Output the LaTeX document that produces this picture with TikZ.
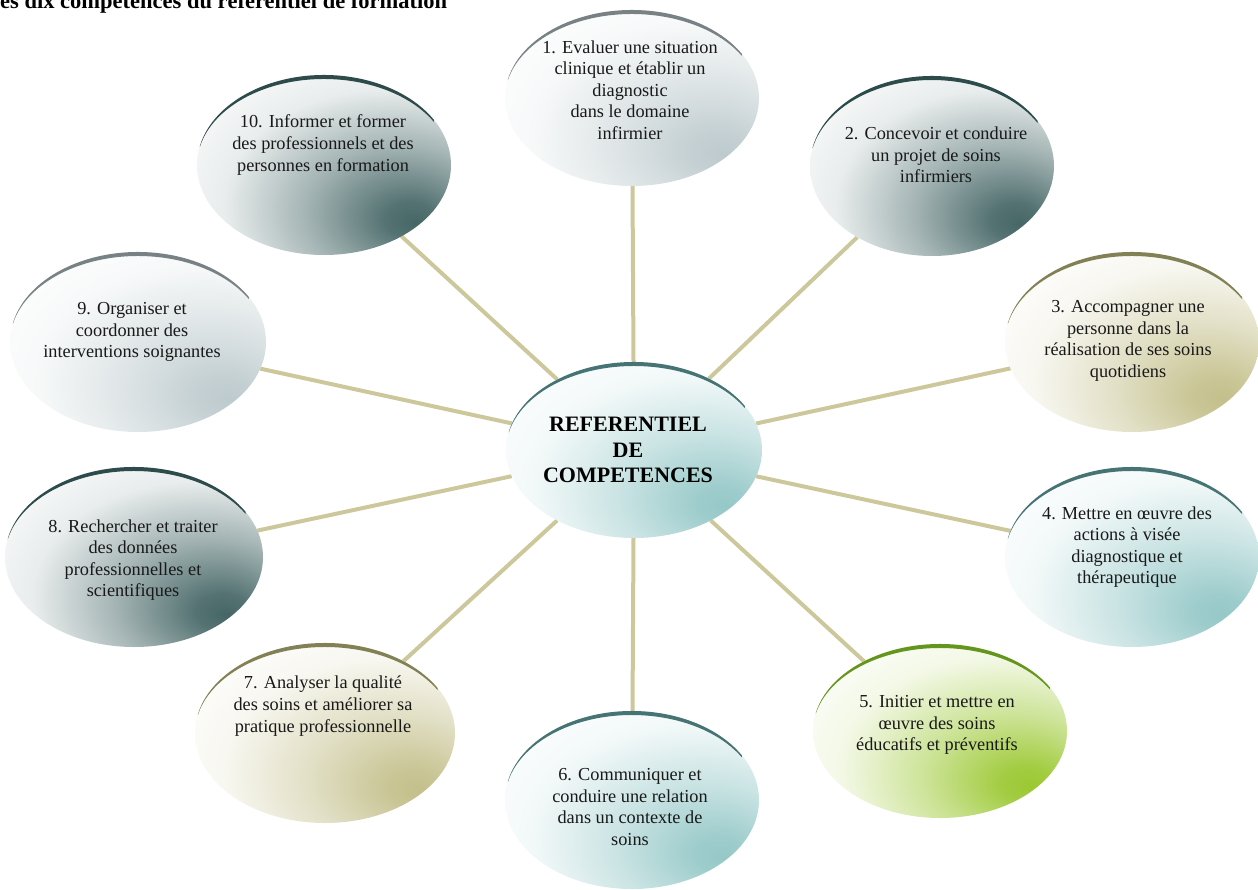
\documentclass[tikz,border=0pt]{standalone}
\usepackage{fontspec}
\setmainfont{Liberation Serif}
\usetikzlibrary{shapes.geometric,calc,backgrounds}
\definecolor{cslate}{RGB}{70,102,102}
\definecolor{ckhaki}{RGB}{196,192,140}
\definecolor{cteal}{RGB}{150,200,200}
\definecolor{cgreen}{RGB}{155,200,50}
\definecolor{cgray}{RGB}{190,203,206}
\definecolor{rslate}{RGB}{45,75,75}
\definecolor{rkhaki}{RGB}{130,128,85}
\definecolor{rteal}{RGB}{70,115,115}
\definecolor{rgreen}{RGB}{100,150,30}
\definecolor{rgray}{RGB}{120,130,132}
\definecolor{connc}{RGB}{205,200,155}
\colorlet{ellcol}{white}
\pgfdeclareradialshading[ellcol]{bubsh}{\pgfpoint{18bp}{-16bp}}{color(0bp)=(ellcol); color(5bp)=(ellcol!92!white); color(18bp)=(ellcol!50!white); color(32bp)=(ellcol!12!white); color(46bp)=(white); color(100bp)=(white)}
\tikzset{
  ecol/.code={\colorlet{ellcol}{#1}},
  bub/.style={ellipse, inner sep=0pt, outer sep=0pt, shade, shading=bubsh},
  lab/.style={align=center, text=black!90, font=\fontsize{18.3}{21.6}\selectfont},
  conn/.style={draw=connc, line width=4pt},
}
\newcommand\mybub[7]{%
  \node[bub, minimum width=2*#4, minimum height=2*#5, ecol=#6] (#1) at (#2,-#3) {};
  \pgfmathsetmacro\ryin{#5-4}
  \fill[#7] ($(#1.center)+(168:#4 and #5)$) arc[start angle=168,end angle=30,x radius=#4,y radius=#5]
     -- ($(#1.center)+(30:#4 and \ryin)$) arc[start angle=30,end angle=168,x radius=#4,y radius=\ryin] -- cycle;
}
\begin{document}
\begin{tikzpicture}[x=1pt,y=1pt]
\useasboundingbox (0,0) rectangle (1258,-889);
\node[anchor=base west, inner sep=0pt, font=\bfseries\fontsize{22.5}{25}\selectfont] (title) at (0,-8) {es dix compétences du référentiel de formation};

\mybub{c}{634}{450}{128}{88}{cteal}{rteal}
\mybub{e1}{632}{98}{127}{88}{cgray}{rgray}
\mybub{e2}{932}{166}{122}{90}{cslate}{rslate}
\mybub{e3}{1132}{342}{127}{90}{ckhaki}{rkhaki}
\mybub{e4}{1132}{557}{127}{90}{cteal}{rteal}
\mybub{e5}{940}{731}{127}{87}{cgreen}{rgreen}
\mybub{e6}{632}{800}{127}{89}{cteal}{rteal}
\mybub{e7}{325}{733}{130}{90}{ckhaki}{rkhaki}
\mybub{e8}{134}{557}{129}{90}{cslate}{rslate}
\mybub{e9}{138}{342}{128}{90}{cgray}{rgray}
\mybub{e10}{324}{165}{127}{90}{cslate}{rslate}

\begin{pgfonlayer}{background}
\foreach \i in {1,...,10} {\draw[conn] (c) -- (e\i);}
\end{pgfonlayer}

\node[align=center, font=\bfseries\fontsize{22}{25.5}\selectfont] (tc) at (628,-450) {REFERENTIEL\\DE\\COMPETENCES};
\node[lab] (t1) at (630,-90) {1. Evaluer une situation\\clinique et établir un\\diagnostic\\dans le domaine\\infirmier};
\node[lab] (t2) at (936,-155) {2. Concevoir et conduire\\un projet de soins\\infirmiers};
\node[lab] (t3) at (1128,-341) {3. Accompagner une\\personne dans la\\réalisation de ses soins\\quotidiens};
\node[lab] (t4) at (1127,-547) {4. Mettre en œuvre des\\actions à visée\\diagnostique et\\thérapeutique};
\node[lab] (t5) at (937,-725) {5. Initier et mettre en\\œuvre des soins\\éducatifs et préventifs};
\node[lab] (t6) at (630,-807) {6. Communiquer et\\conduire une relation\\dans un contexte de\\soins};
\node[lab] (t7) at (323,-706) {7. Analyser la qualité\\des soins et améliorer sa\\pratique professionnelle};
\node[lab] (t8) at (133,-560) {8. Rechercher et traiter\\des données\\professionnelles et\\scientifiques};
\node[lab] (t9) at (132,-332) {9. Organiser et\\coordonner des\\interventions soignantes};
\node[lab] (t10) at (323,-145) {10. Informer et former\\des professionnels et des\\personnes en formation};
\end{tikzpicture}
\end{document}
